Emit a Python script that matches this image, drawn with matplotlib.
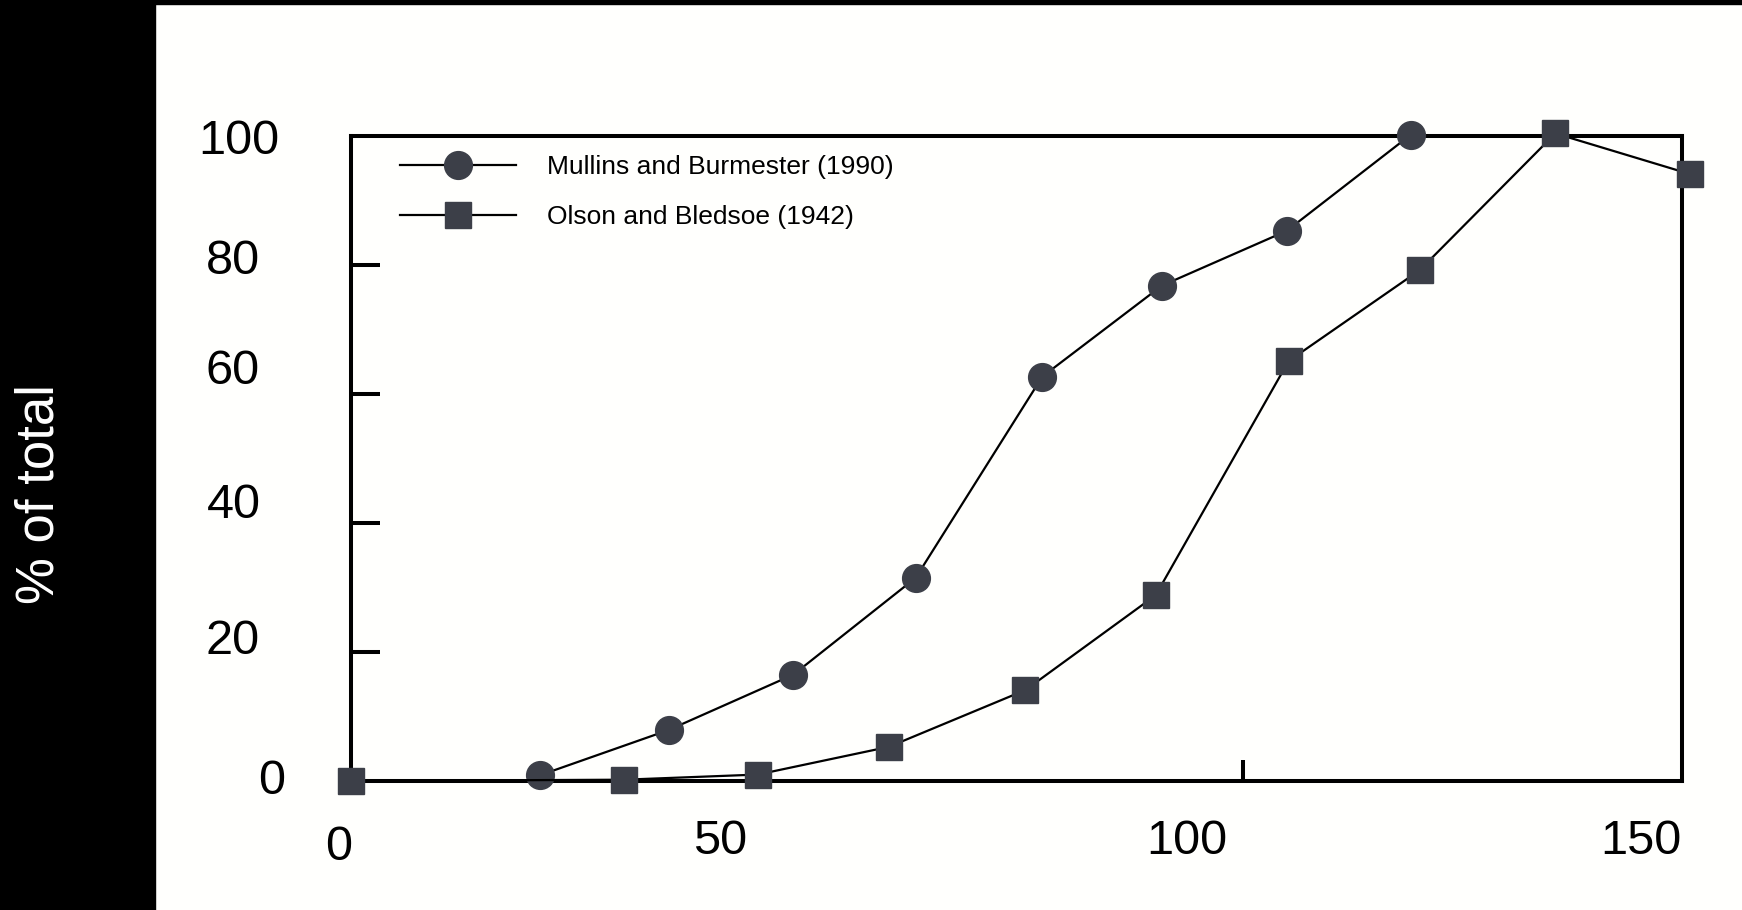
import matplotlib

matplotlib.use("Agg")
import matplotlib.pyplot as plt
from matplotlib.patches import Rectangle

plt.rcParams["font.family"] = ["Liberation Sans", "DejaVu Sans"]

# data
mullins_x = [21.2, 35.6, 49.6, 63.3, 77.5, 90.9, 104.9, 118.8]
mullins_y = [0.9, 7.9, 16.5, 31.5, 62.7, 76.8, 85.3, 100.2]
olson_x = [0.0, 30.6, 45.6, 60.3, 75.6, 90.2, 105.1, 119.8, 135.0, 150.1]
olson_y = [0.0, 0.2, 1.0, 5.3, 14.1, 28.8, 65.1, 79.2, 100.4, 94.1]
series_labels = ["Mullins and Burmester (1990)", "Olson and Bledsoe (1942)"]
y_tick_vals = [20, 40, 60, 80]
x_tick_vals = [100]
y_label_text = ["100", "80", "60", "40", "20", "0"]
x_label_text = ["0", "50", "100", "150"]
y_axis_title = "% of total"

W, H = 1742, 910
fig = plt.figure(figsize=(W / 100, H / 100), dpi=100, facecolor="#fffffd")


def px(x, y):
    return x / W, 1 - y / H


# black slide background bands
fig.patches.append(Rectangle((0, 0), 155 / W, 1, transform=fig.transFigure,
                             color="black", zorder=0))
fig.patches.append(Rectangle((0, 1 - 4 / H), 1, 4 / H, transform=fig.transFigure,
                             color="black", zorder=0))

ax = fig.add_axes([351 / W, 1 - 781 / H, (1682 - 351) / W, (781 - 136) / H])
ax.set_facecolor("none")
ax.set_xlim(0, 149.2)
ax.set_ylim(0, 100)
for sp in ax.spines.values():
    sp.set_linewidth(2.9)

mark_col = "#3c3f48"
ax.plot(mullins_x, mullins_y, color="black", lw=1.6, marker="o", ms=20,
        mfc=mark_col, mec=mark_col, clip_on=False, label=series_labels[0], zorder=3)
ax.plot(olson_x, olson_y, color="black", lw=1.6, marker="s", ms=19,
        mfc=mark_col, mec=mark_col, clip_on=False, label=series_labels[1], zorder=3)

ax.set_yticks(y_tick_vals)
ax.set_xticks(x_tick_vals)
ax.tick_params(axis="y", direction="in", length=21, width=2.9, labelleft=False)
ax.tick_params(axis="x", direction="in", length=15, width=2.9, labelbottom=False)

leg = ax.legend(loc="upper left", bbox_to_anchor=px(400, 155), bbox_transform=fig.transFigure,
                frameon=False, fontsize=19, handlelength=4.4, handletextpad=1.17,
                labelspacing=1.0, borderpad=0, borderaxespad=0, numpoints=1)

# hand-placed labels as in the pasted scan
y_label_pos = [(239, 141), (233, 261), (233, 372), (234, 506), (233, 641), (272, 781)]
x_label_pos = [(339, 847), (720, 841), (1187, 841), (1641, 841)]
for t, (x, y) in zip(y_label_text, y_label_pos):
    fig.text(*px(x, y), t, fontsize=35, ha="center", va="center")
for t, (x, y) in zip(x_label_text, x_label_pos):
    fig.text(*px(x, y), t, fontsize=35, ha="center", va="center")

fig.text(*px(40, 494), y_axis_title, fontsize=38, color="white", rotation=90,
         ha="center", va="center")

fig.savefig("out.png", dpi=100, facecolor=fig.get_facecolor())
